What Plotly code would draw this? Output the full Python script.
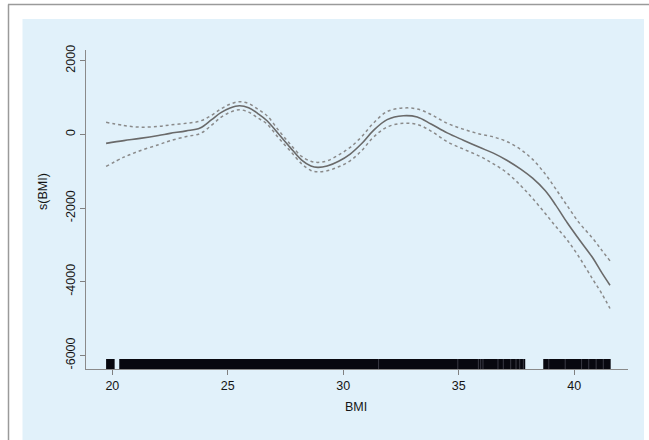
import plotly.graph_objects as go

# ---- data ----
bmi = [19.73, 20.5, 21.2, 22.0, 22.5, 23.2, 23.8, 24.3, 24.7, 25.1, 25.5, 25.9, 26.3, 26.7,
       27.2, 27.7, 28.2, 28.6, 28.9, 29.3, 29.8, 30.3, 30.8, 31.3, 31.9, 32.6, 33.2, 33.8,
       34.5, 35.2, 35.9, 36.5, 37.1, 37.7, 38.2, 38.75, 39.2, 39.7, 40.2, 40.8, 41.2, 41.55]
s_fit = [-245, -170, -109, -30, 27, 95, 175, 400, 590, 715, 777, 725, 565, 370,
         10, -353, -700, -860, -897, -860, -730, -535, -250, 100, 400, 505, 470, 280,
         40, -160, -353, -510, -710, -950, -1190, -1532, -1920, -2400, -2840, -3350, -3760, -4095]
s_upper = [326, 240, 195, 215, 253, 300, 360, 520, 690, 820, 886, 840, 685, 505,
           110, -264, -600, -730, -761, -720, -560, -353, -60, 300, 620, 715, 690, 540,
           300, 140, 10, -70, -200, -420, -680, -1080, -1480, -1940, -2390, -2820, -3150, -3435]
s_lower = [-870, -620, -445, -280, -174, -60, 20, 250, 462, 600, 668, 605, 445, 280,
           -100, -446, -800, -980, -1016, -990, -880, -717, -440, -80, 200, 299, 270, 90,
           -200, -400, -590, -800, -1050, -1400, -1740, -2150, -2500, -2870, -3320, -3932, -4330, -4728]

# rug: dense observation blocks and lighter streaks inside them
rug_start = [19.73, 20.30, 38.66]
rug_end = [20.10, 37.88, 41.58]
rug_light = [31.53, 34.96, 35.85, 35.95, 36.05, 36.70, 36.93, 37.25, 37.48, 37.64, 37.80,
             38.90, 39.61, 40.32, 40.63, 40.95, 41.26]

x_ticks = [20, 25, 30, 35, 40]
y_ticks = [2000, 0, -2000, -4000, -6000]
y_tick_text = ["2000", "0", "-2000", "-4000", "-6000"]

# ---- figure ----
W, H = 649, 440
L, R, T, B = 86, 21, 50, 71
pw, ph = W - L - R, H - T - B

def px(xp):
    return (xp - L) / pw

def py(yp):
    return (H - B - yp) / ph

blue = "#E1F1FA"
txt = "#151515"
fig = go.Figure()

fig.add_trace(go.Scatter(x=bmi, y=s_upper, mode="lines", line_shape="spline",
                         line=dict(color="#8a8a8a", width=1.5, dash="dot", smoothing=1.0),
                         hoverinfo="skip"))
fig.add_trace(go.Scatter(x=bmi, y=s_lower, mode="lines", line_shape="spline",
                         line=dict(color="#8a8a8a", width=1.5, dash="dot", smoothing=1.0),
                         hoverinfo="skip"))
fig.add_trace(go.Scatter(x=bmi, y=s_fit, mode="lines", line_shape="spline",
                         line=dict(color="#6a6a6a", width=1.6, smoothing=1.0), hoverinfo="skip"))

shapes = []
# page decoration
shapes.append(dict(type="rect", xref="paper", yref="paper", x0=px(22.5), x1=px(644),
                   y0=py(445), y1=py(19), fillcolor=blue, line=dict(width=0), layer="below"))
shapes.append(dict(type="line", xref="paper", yref="paper", x0=px(8.5), x1=px(8.5),
                   y0=py(445), y1=py(4.5), line=dict(color="#9a9a9a", width=1.5), layer="below"))
shapes.append(dict(type="line", xref="paper", yref="paper", x0=px(8), x1=px(650),
                   y0=py(4.5), y1=py(4.5), line=dict(color="#9a9a9a", width=1.5), layer="below"))
rug_h = 10 / ph
for a, b in zip(rug_start, rug_end):
    shapes.append(dict(type="rect", xref="x", yref="y domain", x0=a, x1=b, y0=0, y1=rug_h,
                       fillcolor="#08080f", line=dict(width=0)))
for v in rug_light:
    shapes.append(dict(type="line", xref="x", yref="y domain", x0=v, x1=v, y0=0, y1=rug_h,
                       line=dict(color="#3a3a44", width=1)))

fig.update_layout(
    width=W, height=H, margin=dict(l=L, r=R, t=T, b=B),
    paper_bgcolor="white", plot_bgcolor=blue, showlegend=False,
    font=dict(family="Liberation Sans, Arial, sans-serif", size=12, color=txt),
    shapes=shapes,
    xaxis=dict(range=[18.86, 42.33], tickvals=x_ticks, ticks="outside", ticklen=5,
               tickcolor="#808080", showline=True, linecolor="#8a8a8a", linewidth=1.2,
               showgrid=False, zeroline=False, tickfont=dict(size=12.5, color=txt)),
    yaxis=dict(range=[-6370, 2290], tickvals=y_ticks, ticktext=y_tick_text, ticks="outside",
               ticklen=5, tickcolor="#808080", tickangle=-90, showline=True,
               linecolor="#8a8a8a", linewidth=1.2, showgrid=False, zeroline=False,
               tickfont=dict(size=12.5, color=txt)),
    annotations=[
        dict(text="BMI", xref="paper", yref="paper", x=px(356), y=py(407), showarrow=False,
             xanchor="center", yanchor="middle", font=dict(size=12.5, color=txt)),
        dict(text="s(BMI)", xref="paper", yref="paper", x=px(43), y=py(192), showarrow=False,
             textangle=-90, xanchor="center", yanchor="middle",
             font=dict(size=12.5, color=txt)),
    ],
)

fig.write_html("out.html")
